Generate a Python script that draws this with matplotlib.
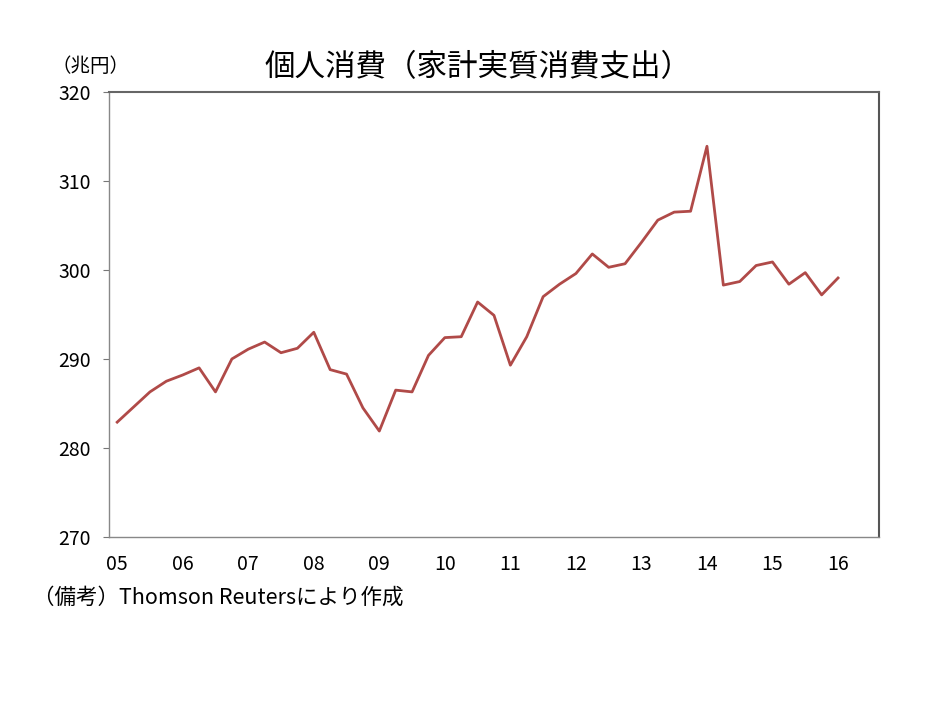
import numpy as np
import matplotlib
matplotlib.use("Agg")
import matplotlib.pyplot as plt

plt.rcParams['font.family'] = ['Noto Sans CJK JP', 'DejaVu Sans']

# 四半期データ 2005Q1 - 2016Q1（兆円）
values = [282.9, 284.6, 286.3, 287.5, 288.2, 289.0, 286.3, 290.0, 291.1, 291.9,
          290.7, 291.2, 293.0, 288.8, 288.3, 284.5, 281.9, 286.5, 286.3, 290.4,
          292.4, 292.5, 296.4, 294.9, 289.3, 292.5, 297.0, 298.4, 299.6, 301.8,
          300.3, 300.7, 303.1, 305.6, 306.5, 306.6, 313.9, 298.3, 298.7, 300.5,
          300.9, 298.4, 299.7, 297.2, 299.1]
year_labels = ['05', '06', '07', '08', '09', '10', '11', '12', '13', '14', '15', '16']
y_ticks = [270, 280, 290, 300, 310, 320]

x = np.arange(len(values))

fig = plt.figure(figsize=(9.34, 7.01), dpi=100)
ax = fig.add_axes([0.1167, 0.234, 0.8244, 0.6348])

ax.plot(x, values, color='#B04A48', linewidth=2.0)

ax.set_xlim(-0.5, 46.5)
ax.set_ylim(270, 320)
ax.set_yticks(y_ticks)
ax.set_xticks(np.arange(len(year_labels)) * 4)
ax.set_xticklabels(year_labels)

ax.tick_params(axis='y', direction='out', length=4, color='#777777', labelsize=14, pad=9)
ax.tick_params(axis='x', length=0, labelsize=14, pad=12)

for side in ['left', 'bottom']:
    ax.spines[side].set_color('#888888')
    ax.spines[side].set_linewidth(1.0)
ax.spines['right'].set_color('#555555')
ax.spines['right'].set_linewidth(1.5)
ax.spines['top'].set_color('#666666')
ax.spines['top'].set_linewidth(1.5)

fig.text(0.512, 0.903, '個人消費（家計実質消費支出）', ha='center', va='center', fontsize=22)
fig.text(0.055, 0.905, '（兆円）', ha='left', va='center', fontsize=14)
fig.text(0.035, 0.148, '（備考）Thomson Reutersにより作成', ha='left', va='center', fontsize=15.5)

fig.savefig('out.png', dpi=100)
